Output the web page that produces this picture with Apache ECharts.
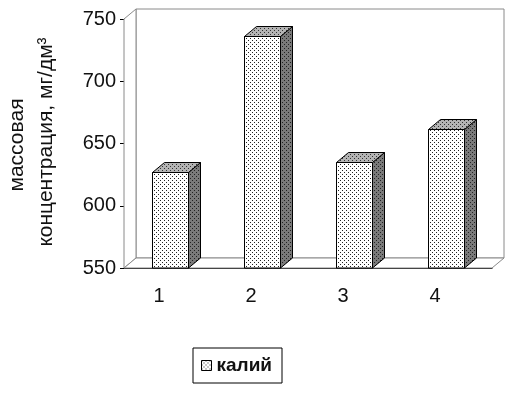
<!DOCTYPE html>
<html>
<head>
<meta charset="utf-8">
<script src="https://cdn.jsdelivr.net/npm/echarts@6/dist/echarts.min.js"></script>
<style>
  html, body { margin: 0; padding: 0; background: #fff; }
  #chart { width: 506px; height: 394px; }
</style>
</head>
<body>
<div id="chart"></div>
<script>
// Samples and measured potassium concentration
const categories = ['1', '2', '3', '4'];
const potassium = [627, 736, 635, 662];
const seriesName = 'калий';
const yTicks = { min: 550, max: 750, step: 50 };

// Oblique depth offset used for the pseudo-3D walls and prisms
const DX = 12, DY = -10;
const FONT = '"Liberation Sans", Arial, sans-serif';

// Dotted fill textures (staggered dots on a tinted background)
function dotPattern(bg, dot) {
  const c = document.createElement('canvas');
  c.width = 4; c.height = 4;
  const ctx = c.getContext('2d');
  ctx.fillStyle = bg;
  ctx.fillRect(0, 0, 4, 4);
  ctx.fillStyle = dot;
  ctx.fillRect(0, 0, 1, 1);
  ctx.fillRect(2, 2, 1, 1);
  return { image: c, repeat: 'repeat' };
}
const frontFill = dotPattern('#ffffff', '#222222');
const topFill = dotPattern('#b4b4b4', '#333333');
const sideFill = dotPattern('#7a7a7a', '#222222');

const chart = echarts.init(document.getElementById('chart'), null, { renderer: 'canvas' });

function renderWalls(params, api) {
  const cs = params.coordSys;
  const x0 = cs.x, x1 = cs.x + cs.width;
  const y0 = cs.y, y1 = cs.y + cs.height;
  const stroke = { fill: '#fff', stroke: '#8a8a8a', lineWidth: 1 };
  return {
    type: 'group',
    children: [
      { type: 'rect', shape: { x: x0 + DX, y: y0 + DY, width: cs.width, height: cs.height }, style: stroke },
      { type: 'polygon', shape: { points: [[x0, y0], [x0 + DX, y0 + DY], [x0 + DX, y1 + DY], [x0, y1]] }, style: stroke },
      { type: 'polygon', shape: { points: [[x0, y1], [x1, y1], [x1 + DX, y1 + DY], [x0 + DX, y1 + DY]] }, style: stroke }
    ]
  };
}

function renderPrism(params, api) {
  const idx = api.value(0);
  const top = api.coord([idx, api.value(1)]);
  const base = api.coord([idx, yTicks.min]);
  const w = api.size([1, 0])[0] * 0.4;
  const xl = Math.round(top[0] - w / 2) + 0.5;
  const xr = Math.round(top[0] + w / 2) + 0.5;
  const yt = Math.round(top[1]) + 0.5;
  const yb = base[1];
  const edge = { stroke: '#000', lineWidth: 1 };
  return {
    type: 'group',
    children: [
      { type: 'polygon', shape: { points: [[xr, yb], [xr, yt], [xr + DX, yt + DY], [xr + DX, yb + DY]] },
        style: Object.assign({ fill: sideFill }, edge) },
      { type: 'polygon', shape: { points: [[xl, yt], [xr, yt], [xr + DX, yt + DY], [xl + DX, yt + DY]] },
        style: Object.assign({ fill: topFill }, edge) },
      { type: 'rect', shape: { x: xl, y: yt, width: xr - xl, height: yb - yt },
        style: Object.assign({ fill: frontFill }, edge) }
    ]
  };
}

chart.setOption({
  animation: false,
  backgroundColor: '#fff',
  grid: { left: 124, right: 14, top: 19, bottom: 126 },
  xAxis: {
    type: 'category',
    data: categories,
    axisLine: { lineStyle: { color: '#000', width: 1 } },
    axisTick: { length: 5, lineStyle: { color: '#000' } },
    axisLabel: { color: '#111', fontSize: 20, fontFamily: FONT, margin: 18, padding: [0, 22, 0, 0] },
    splitLine: { show: false }
  },
  yAxis: {
    type: 'value',
    min: yTicks.min,
    max: yTicks.max,
    interval: yTicks.step,
    axisLine: { show: true, lineStyle: { color: '#000', width: 1 } },
    axisTick: { show: true, length: 4, lineStyle: { color: '#000' } },
    axisLabel: { color: '#111', fontSize: 20, fontFamily: FONT, margin: 8 },
    splitLine: { show: false }
  },
  legend: {
    data: [{ name: seriesName, icon: 'rect', itemStyle: { color: frontFill, borderColor: '#000', borderWidth: 1 } }],
    left: 193,
    top: 348,
    itemWidth: 10,
    itemHeight: 10,
    itemGap: 5,
    padding: [8, 10, 8, 8],
    borderColor: '#000',
    borderWidth: 1,
    textStyle: { color: '#111', fontSize: 19, fontWeight: 'bold', fontFamily: FONT }
  },
  graphic: [
    { type: 'text', x: 17, y: 145, rotation: Math.PI / 2,
      style: { text: 'массовая', font: '21px ' + FONT, fill: '#111', align: 'center', verticalAlign: 'middle' } },
    { type: 'text', x: 46, y: 142, rotation: Math.PI / 2,
      style: { text: 'концентрация, мг/дм³', font: '21px ' + FONT, fill: '#111', align: 'center', verticalAlign: 'middle' } }
  ],
  series: [
    {
      name: 'walls',
      type: 'custom',
      silent: true,
      z: 1,
      renderItem: renderWalls,
      data: [[0, yTicks.min]],
      encode: { x: 0, y: 1 }
    },
    {
      name: seriesName,
      type: 'custom',
      z: 3,
      itemStyle: { color: frontFill, borderColor: '#000', borderWidth: 1 },
      renderItem: renderPrism,
      data: potassium.map((v, i) => [i, v]),
      encode: { x: 0, y: 1 }
    }
  ]
});
</script>
</body>
</html>
